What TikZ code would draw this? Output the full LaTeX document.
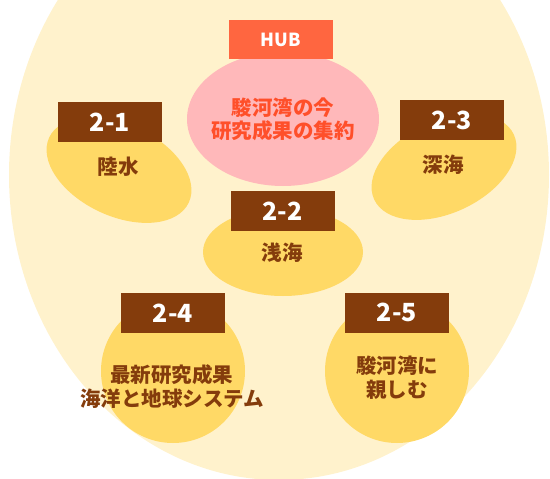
\documentclass[tikz,border=0pt]{standalone}
\usepackage{fontspec}
\setmainfont{Noto Sans CJK JP}
\usetikzlibrary{shapes.geometric}
\definecolor{bgc}{HTML}{FFF2CC}
\definecolor{yel}{HTML}{FFD966}
\definecolor{brn}{HTML}{843C0C}
\definecolor{hubc}{HTML}{FF6640}
\definecolor{pinkc}{HTML}{FFB8BA}
\definecolor{pinktext}{HTML}{FF4F2A}
\tikzset{
  tagbox/.style={rectangle, fill=brn, text=white, minimum width=104pt, minimum height=40pt, inner sep=0pt,
    font=\fontsize{25}{25}\selectfont\bfseries},
  blob/.style={ellipse, fill=yel, inner sep=0pt},
  blobtext/.style={text=brn, align=center, inner sep=0pt, font=\fontsize{20.5}{24}\selectfont\bfseries},
}
\begin{document}
\begin{tikzpicture}[x=1pt,y=-1pt]
\clip (0,0) rectangle (550,479);
\fill[bgc] (279,175) ellipse [x radius=270pt, y radius=305pt];
% HUB
\node[ellipse, fill=pinkc, minimum width=192pt, minimum height=134pt, inner sep=0pt] (hubbody) at (283,119) {};
\node[rectangle, fill=hubc, text=white, minimum width=104pt, minimum height=39pt, inner sep=0pt,
  font=\fontsize{18}{18}\selectfont\bfseries] (hub) at (281,39.5) {HUB};
\node[align=center, text=pinktext, inner sep=0pt, font=\fontsize{20.5}{23}\selectfont\bfseries] (hubtext) at (283,119) {駿河湾の今\\研究成果の集約};
% 2-1
\node[blob, minimum width=154pt, minimum height=92pt, rotate=-25] (e1) at (119,170) {};
\node[tagbox] (t1) at (110,122) {2-1};
\node[blobtext] (x1) at (118,167) {陸水};
% 2-3
\node[blob, minimum width=154pt, minimum height=92pt, rotate=25] (e3) at (444,167) {};
\node[tagbox] (t3) at (452,120) {2-3};
\node[blobtext] (x3) at (443,165) {深海};
% 2-2
\node[blob, minimum width=160pt, minimum height=88pt] (e2) at (283,252) {};
\node[tagbox] (t2) at (282.5,211) {2-2};
\node[blobtext] (x2) at (282,253) {浅海};
% 2-4
\node[circle, fill=yel, minimum size=144pt, inner sep=0pt] (e4) at (173,371) {};
\node[tagbox] (t4) at (173,313) {2-4};
\node[blobtext] (x4) at (172,386.5) {最新研究成果\\海洋と地球システム};
% 2-5
\node[circle, fill=yel, minimum size=144pt, inner sep=0pt] (e5) at (397,371) {};
\node[tagbox] (t5) at (397,312.5) {2-5};
\node[blobtext] (x5) at (397,377.5) {駿河湾に\\親しむ};
\end{tikzpicture}
\end{document}
